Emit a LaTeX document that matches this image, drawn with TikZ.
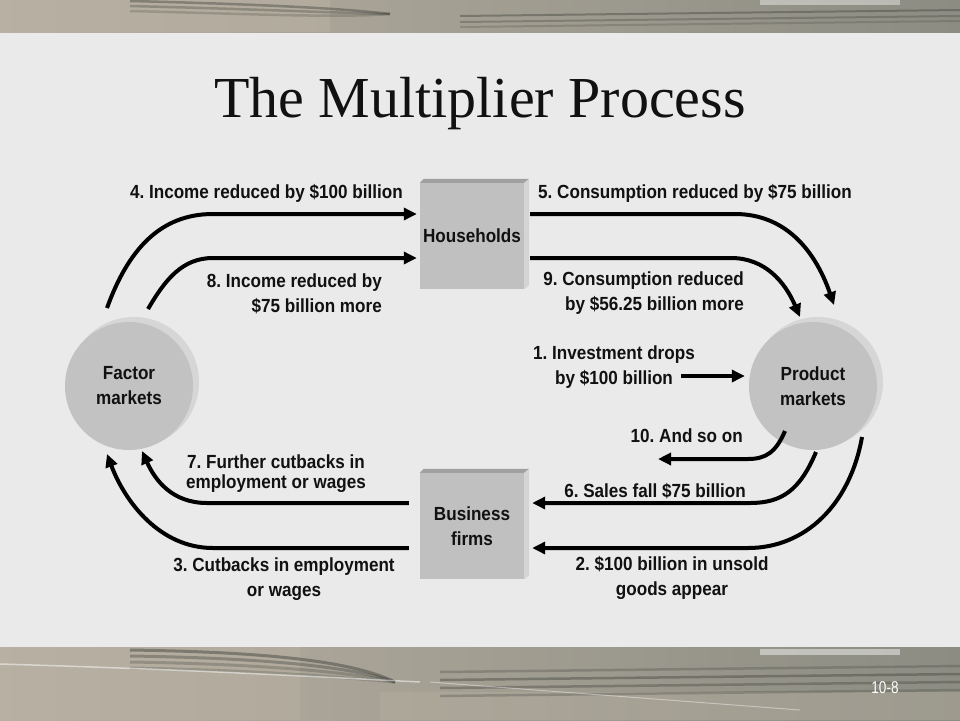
\documentclass[tikz,border=0pt]{standalone}
\usepackage{fontspec}
\setmainfont{Liberation Serif}
\newfontfamily\labfont[FakeStretch=0.9]{Liberation Sans}
\newfontfamily\pgfont[FakeStretch=0.8]{Liberation Sans}
\usetikzlibrary{arrows.meta,calc}
\definecolor{bg}{RGB}{234,234,234}
\definecolor{boxface}{RGB}{192,192,192}
\definecolor{boxtop}{RGB}{160,160,160}
\definecolor{boxside}{RGB}{212,212,212}
\definecolor{circface}{RGB}{194,194,194}
\definecolor{circrim}{RGB}{214,214,214}
\definecolor{ink}{RGB}{17,17,17}
\definecolor{bandA}{RGB}{184,176,162}
\definecolor{bandB}{RGB}{246,244,244}
\definecolor{bandC}{RGB}{140,140,130}
\definecolor{streak}{RGB}{70,72,66}
\frenchspacing
\begin{document}
\begin{tikzpicture}[x=1pt,y=-1pt,
  lab/.style={font=\labfont\bfseries\fontsize{19}{25}\selectfont, text=ink, inner sep=0pt},
  tightlab/.style={font=\labfont\bfseries\fontsize{19}{20}\selectfont, text=ink, inner sep=0pt},
  arr/.style={line width=4pt, draw=black, -{Triangle[length=13pt,width=12pt]}},
  boxnode/.style={rectangle, fill=boxface, minimum width=104pt, minimum height=106pt, inner sep=0pt, align=center,
     font=\labfont\bfseries\fontsize{19}{25}\selectfont, text=ink},
  circnode/.style={circle, fill=circface, minimum size=128pt, inner sep=0pt, align=center,
     font=\labfont\bfseries\fontsize{19}{25}\selectfont, text=ink}]
\useasboundingbox (0,0) rectangle (960,720);
\fill[bg] (0,0) rectangle (960,720);
% top band
\shade[left color=bandA, middle color=bandB, right color=bandC] (0,0) rectangle (960,32);
\fill[bandA, opacity=0.6] (0,0) rectangle (330,32);
\foreach \yy/\op in {4/0.45,9/0.35,14/0.25}{
  \draw[streak, line width=2.5pt, opacity=\op] (130,\yy-3) .. controls (250,\yy) and (340,\yy+4) .. (390,14);
}
\foreach \yy/\op in {16/0.45,22/0.35,27/0.25}{
  \draw[streak, line width=2pt, opacity=\op] (460,\yy) -- (960,\yy-6);
}
\fill[white, opacity=0.4] (760,0) rectangle (900,5);
% bottom band
\shade[left color=bandA, middle color=bandB, right color=bandC] (0,647) rectangle (960,720);
\fill[bandA, opacity=0.55] (0,647) rectangle (300,720);
\fill[bandA, opacity=0.4] (380,692) rectangle (960,720);
\foreach \yy/\op in {650/0.5,656/0.4,662/0.3,668/0.25}{
  \draw[streak, line width=3pt, opacity=\op] (130,\yy) .. controls (260,\yy+2) and (350,\yy+10) .. (395,682);
}
\foreach \yy/\op in {666/0.3,674/0.45,682/0.4,690/0.3}{
  \draw[streak, line width=2.5pt, opacity=\op] (440,\yy+6) -- (960,\yy);
}
\draw[white, line width=1.5pt, opacity=0.5] (0,664) .. controls (200,670) and (300,676) .. (420,682);
\draw[white, line width=1pt, opacity=0.4] (430,682) -- (800,710);
\fill[white, opacity=0.45] (760,649) rectangle (900,655);
\node[font=\pgfont\fontsize{17}{17}\selectfont, text=white, inner sep=0pt] (pg) at (885,688) {10-8};

% title
\node[font=\fontsize{58}{60}\selectfont, text=ink, inner sep=0pt, anchor=base] (title) at (480,117) {The Multiplier Process};

% boxes
\node[boxnode] (hh) at (472,236) {Households};
\fill[boxtop] (hh.north west) -- ++(4,-4) -- ($(hh.north east)+(5,-4)$) -- (hh.north east) -- cycle;
\fill[boxside] (hh.north east) -- ++(5,-4) -- ($(hh.south east)+(5,-4)$) -- (hh.south east) -- cycle;
\node[boxnode] (bf) at (472,526) {Business\\firms};
\fill[boxtop] (bf.north west) -- ++(4,-4) -- ($(bf.north east)+(5,-4)$) -- (bf.north east) -- cycle;
\fill[boxside] (bf.north east) -- ++(5,-4) -- ($(bf.south east)+(5,-4)$) -- (bf.south east) -- cycle;

% circles
\fill[circrim] (134,382) circle (65);
\fill[circrim] (818,382) circle (65);
\node[circnode] (fm) at (129,386) {Factor\\markets};
\node[circnode] (pm) at (813,386) {Product\\markets};

% coordinates
\coordinate (s4) at (107,308); \coordinate (k4) at (213,214);
\coordinate (s8) at (148,309); \coordinate (k8) at (213,258);
\coordinate (k5) at (735,214); \coordinate (e5) at (834,305);
\coordinate (k9) at (731,258); \coordinate (e9) at (800,317);
\coordinate (s1) at (681,376);
\coordinate (s10) at (785,431); \coordinate (k10) at (748,459); \coordinate (e10) at (658,459);
\coordinate (s6) at (816,452); \coordinate (k6) at (750,503);
\coordinate (s2) at (862,437); \coordinate (k2) at (748,548);
\coordinate (k7) at (207,503); \coordinate (e7) at (142,451);
\coordinate (k3) at (213,548); \coordinate (e3) at (107,454);

% arrows
\draw[arr, shorten >=3pt] (s4) .. controls (128,250) and (160,214) .. (k4) -- (hh.west |- k4);
\draw[arr, shorten >=3pt] (s8) .. controls (165,280) and (182,258) .. (k8) -- (hh.west |- k8);
\draw[arr, shorten <=6pt] (hh.east |- k5) -- (k5) .. controls (785,214) and (815,250) .. (e5);
\draw[arr, shorten <=6pt] (hh.east |- k9) -- (k9) .. controls (765,258) and (785,282) .. (e9);
\draw[arr, shorten >=4pt] (s1) -- (pm.west |- s1);
\draw[arr] (s10) .. controls (776,452) and (766,459) .. (k10) -- (e10);
\draw[arr, shorten >=8pt] (s6) .. controls (800,490) and (782,503) .. (k6) -- (bf.east |- k6);
\draw[arr, shorten >=8pt] (s2) .. controls (850,505) and (805,548) .. (k2) -- (bf.east |- k2);
\draw[arr, shorten <=11pt] (bf.west |- k7) -- (k7) .. controls (172,503) and (155,480) .. (e7);
\draw[arr, shorten <=11pt] (bf.west |- k3) -- (k3) .. controls (160,548) and (125,502) .. (e3);

% labels
\node[lab, anchor=east] (l4) at (403,193) {4. Income reduced by \$100 billion};
\node[lab, anchor=west] (l5) at (538,193) {5. Consumption reduced by \$75 billion};
\node[lab, anchor=east, align=right] (l8) at (382,293.5) {8. Income reduced by\\\$75 billion more};
\node[lab, anchor=east, align=right] (l9) at (744,293.5) {9. Consumption reduced\\by \$56.25 billion more};
\node[lab, align=center] (l1) at (614,367.5) {1. Investment drops\\by \$100 billion};
\node[lab, anchor=east] (l10) at (743,436) {10. And so on};
\node[tightlab, align=center] (l7) at (276,474) {7. Further cutbacks in\\employment or wages};
\node[lab, anchor=east] (l6) at (746,491) {6. Sales fall \$75 billion};
\node[lab, align=center] (l3) at (284,579) {3. Cutbacks in employment\\or wages};
\node[lab, align=center] (l2) at (672,578) {2. \$100 billion in unsold\\goods appear};
\end{tikzpicture}
\end{document}
